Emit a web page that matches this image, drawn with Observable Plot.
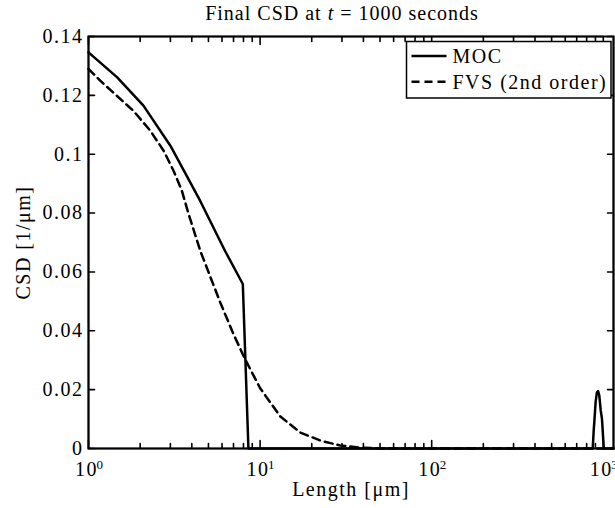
<!DOCTYPE html>
<html><head><meta charset="utf-8">
<script src="https://cdn.jsdelivr.net/npm/d3@7"></script>
<script src="https://cdn.jsdelivr.net/npm/@observablehq/plot@0.6"></script>
<style>
html,body{margin:0;padding:0;background:#fff;}
#wrap{position:relative;width:615px;height:508px;overflow:hidden;font-family:"Liberation Serif","Times New Roman",serif;}
#title{height:28px;width:615px;font-size:20px;letter-spacing:1px;line-height:28px;position:relative;}
#title span{position:absolute;left:0;width:684px;text-align:center;top:-1px;white-space:nowrap;}
#chart svg text{letter-spacing:1.5px;}
</style></head>
<body><div id="wrap"><div id="title"><span>Final CSD at <i>t</i> = 1000 seconds</span></div><div id="chart"></div></div>
<script>
// ---- data ----
const seriesNames = ["MOC", "FVS (2nd order)"];
const mocX = [1, 1.47, 2.09, 3.0, 4.47, 6.24, 7.93, 8.55, 868, 879, 889, 903, 918, 933, 948, 966, 983, 995, 1007, 1147];
const mocY = [0.1346, 0.1261, 0.1165, 0.1029, 0.0842, 0.0672, 0.0559, 0, 0, 0.006, 0.010, 0.016, 0.0190, 0.0195, 0.018, 0.013, 0.010, 0.005, 0, 0];
const fvsX = [1, 1.17, 1.46, 1.83, 2.29, 2.74, 3.13, 3.50, 3.83, 4.48, 5.86, 6.98, 8.20, 10.03, 13.12, 17.16, 22.44, 29.35, 38.4, 50.2, 1147];
const fvsY = [0.129, 0.125, 0.1199, 0.1147, 0.108, 0.1012, 0.0944, 0.0876, 0.0797, 0.0672, 0.0496, 0.0390, 0.0302, 0.0204, 0.0109, 0.0054, 0.0027, 0.0010, 0.0003, 0, 0];
const xMajor = [1, 10, 100, 1000];
const xMajorBase = ["10", "10", "10", "10"];
const xMajorExp = ["0", "1", "2", "3"];
const xMinor = [2,3,4,5,6,7,8,9,20,30,40,50,60,70,80,90,200,300,400,500,600,700,800,900];
const yTicks = [0, 0.02, 0.04, 0.06, 0.08, 0.10, 0.12, 0.14];
const yTickLabels = ["0", "0.02", "0.04", "0.06", "0.08", "0.1", "0.12", "0.14"];
const xDomain = [1, 1147];
const yDomain = [0, 0.14];
const xLabel = "Length [μm]";
const yLabel = "CSD [1/μm]";

(function () {
const moc = mocX.map((x, i) => ({x, y: mocY[i]}));
const fvs = fvsX.map((x, i) => ({x, y: fvsY[i]}));

const W = 615, H = 480, mt = 8, mb = 60, ml = 88, mr = 2;
const font = '"Liberation Serif", "Times New Roman", serif';
const txt = {fill: "black", fontFamily: font, fontSize: 20};

// inward tick marks, built from the tick arrays as zig-zag paths along each edge
// (lengths in scale units: ~8px major / ~5px minor vertically, ~6px horizontally)
const majLen = 0.0027, minLen = 0.0017, yTickFactor = 1.084;
const [yLo, yHi] = yDomain, [xLo, xHi] = xDomain;
const xTickAll = xMajor.map(v => ({v, h: majLen})).concat(xMinor.map(v => ({v, h: minLen}))).sort((a, b) => a.v - b.v);
const bottomTicks = xTickAll.flatMap(({v, h}) => [{x: v, y: yLo}, {x: v, y: yLo + h}, {x: v, y: yLo}]);
const topTicks = xTickAll.flatMap(({v, h}) => [{x: v, y: yHi}, {x: v, y: yHi - h}, {x: v, y: yHi}]);
const leftTicks = yTicks.flatMap(v => [{x: xLo, y: v}, {x: xLo * yTickFactor, y: v}, {x: xLo, y: v}]);
const rightTicks = yTicks.flatMap(v => [{x: xHi, y: v}, {x: xHi / yTickFactor, y: v}, {x: xHi, y: v}]);
const tk = {x: "x", y: "y", stroke: "black", strokeWidth: 1.6, strokeLinejoin: "round", strokeLinecap: "butt"};

const chart = Plot.plot({
  width: W, height: H, marginTop: mt, marginBottom: mb, marginLeft: ml, marginRight: mr,
  style: {fontFamily: font, fontSize: "20px", background: "white", color: "black", overflow: "visible"},
  x: {type: "log", domain: xDomain, axis: null},
  y: {domain: yDomain, axis: null},
  marks: [
    Plot.line(fvs, {x: "x", y: "y", stroke: "black", strokeWidth: 2.5, strokeDasharray: "8,5"}),
    Plot.line(moc, {x: "x", y: "y", stroke: "black", strokeWidth: 2.5}),
    Plot.line(bottomTicks, tk),
    Plot.line(topTicks, tk),
    Plot.line(leftTicks, tk),
    Plot.line(rightTicks, tk),
    Plot.frame({stroke: "black", strokeWidth: 2}),
    Plot.text(yTicks, {y: d => d, text: (d, i) => yTickLabels[i], frameAnchor: "left", textAnchor: "end", dx: -5, ...txt}),
    Plot.text(xMajor, {x: d => d, text: (d, i) => xMajorBase[i], frameAnchor: "bottom", textAnchor: "middle", dx: -2, dy: 27, ...txt}),
    Plot.text(xMajor, {x: d => d, text: (d, i) => xMajorExp[i], frameAnchor: "bottom", textAnchor: "start", dx: 8, dy: 20, ...txt, fontSize: 13}),
    Plot.text([xLabel], {text: d => d, frameAnchor: "bottom", textAnchor: "middle", dy: 47.5, ...txt}),
    Plot.text([yLabel], {text: d => d, frameAnchor: "left", textAnchor: "middle", rotate: -90, dx: -64.5, ...txt})
  ]
});
document.getElementById("chart").appendChild(chart);

// legend (box in the upper right, inside the axes)
const svg = d3.select(chart);
const lg = svg.append("g").attr("transform", "translate(406.5,13.5)");
lg.append("rect").attr("width", 204.5).attr("height", 56.5).attr("fill", "white").attr("stroke", "black").attr("stroke-width", 1.5);
const dashes = [null, "8,5"];
seriesNames.forEach((name, i) => {
  const cy = 14.5 + i * 25.7;
  lg.append("line").attr("x1", 5).attr("x2", 40).attr("y1", cy).attr("y2", cy)
    .attr("stroke", "black").attr("stroke-width", 2.5).attr("stroke-dasharray", dashes[i]);
  lg.append("text").attr("x", 46).attr("y", cy + 7).attr("text-anchor", "start")
    .attr("font-family", font).attr("font-size", 20).attr("fill", "black").text(name);
});
})();
</script>
</body></html>
